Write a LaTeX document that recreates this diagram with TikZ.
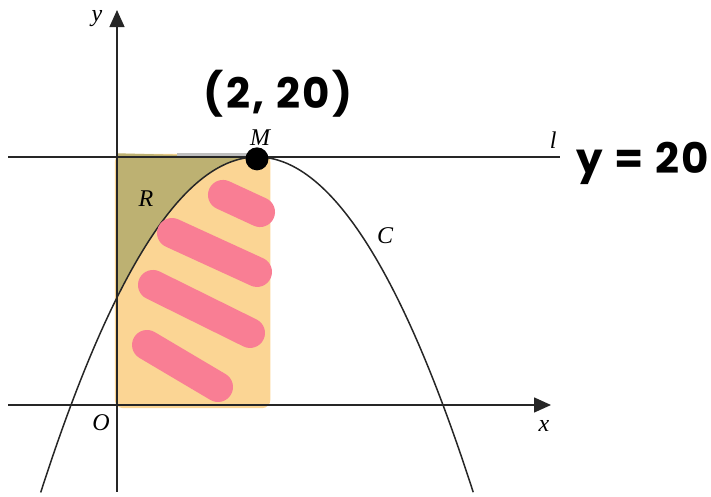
\documentclass[tikz,border=0pt]{standalone}
\usepackage{fontspec}
\setmainfont{Liberation Serif}
\newfontfamily\handfont{Poppins}[LetterSpace=6]
\usetikzlibrary{arrows.meta}
\definecolor{hlorange}{HTML}{FBD594}
\definecolor{hlolive}{HTML}{BDB172}
\definecolor{hlpink}{HTML}{F97E94}

\begin{document}
\begin{tikzpicture}[
    x=70pt,
    y=12.4pt,
    axis/.style={draw=black!85, line width=1.5pt, -{Triangle[length=17pt,width=15pt]}},
    curveline/.style={draw=black!85, line width=1.5pt},
    marker/.style={draw=hlpink, line width=30pt, line cap=round},
    lbl/.style={font=\fontsize{24}{24}\selectfont\itshape, inner sep=0pt},
    hand/.style={font=\handfont\bfseries\fontsize{42}{42}\selectfont, inner sep=0pt}
  ]
    \def\para{20-2.833*(\x-2)^2}
    \useasboundingbox (-1.6714,-7.4194) rectangle (8.4857,32.661);

    % highlighted areas
    \fill[hlorange, rounded corners=8pt] (-0.03,-0.25) rectangle (2.19,20.25);
    \fill[hlolive] (0,20.3) -- (0,8.67) -- plot[domain=0:2, samples=40, smooth] (\x,{\para}) -- cycle;
    \fill[black!25] (0.85,20) rectangle (1.9,20.35);

    % axes, line l and curve C
    \draw[curveline] (-1.557,20) -- (6.33,20);
    \draw[axis] (-1.557,0) -- (6.2,0);
    \draw[axis] (0,-7.016) -- (0,31.85);
    \draw[curveline] plot[domain=-1.09:5.09, samples=80, smooth] (\x,{\para});

    \foreach \a/\b/\c/\d in {1.514/16.94/2.043/15.56,0.786/13.87/2.0/10.73,
                             0.514/9.68/1.9/5.81,0.429/4.84/1.443/1.45} {
      \draw[marker] (\a,\b) -- (\c,\d);
    }

    \node[circle, fill=black, minimum size=23pt, inner sep=0pt] (m) at (2,19.85) {};

    \node[lbl] (ylbl) at (-0.286,31.13) {y};
    \node[lbl] (xlbl) at (6.1,-1.69) {x};
    \node[lbl] (olbl) at (-0.229,-1.45) {O};
    \node[lbl] (mlbl) at (2.043,21.53) {M};
    \node[lbl] (llbl) at (6.23,21.37) {l};
    \node[lbl] (clbl) at (3.83,13.63) {C};
    \node[lbl] (rlbl) at (0.414,16.61) {R};

    \node[hand] (mpt) at (2.3,25.1) {(2, 20)};
    \node[hand] (leq) at (7.514,19.52) {y = 20};
  \end{tikzpicture}
\end{document}
